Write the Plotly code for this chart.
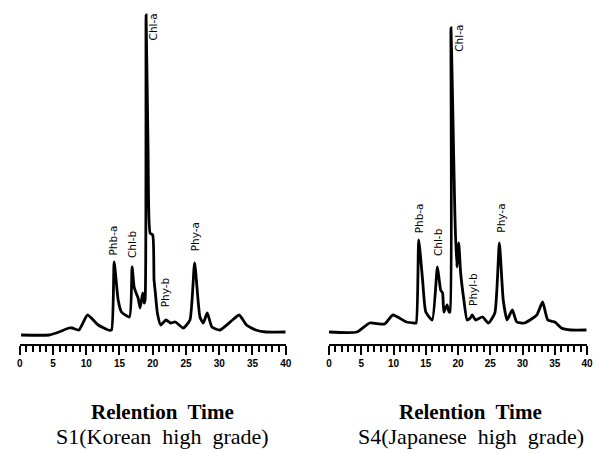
import plotly.graph_objects as go

# ---- data: retention time (min) and detector response (arbitrary units) ----
s1_time = [0.2, 4.4, 5.9, 7.4, 7.9, 8.9, 10.2, 11.8, 13.3, 13.8, 14.2, 14.8, 15.3, 16.5,
           16.9, 17.2, 17.5, 17.8, 18.1, 18.5, 18.7, 18.85, 19.0, 19.3, 19.6, 20.0, 20.2,
           20.4, 20.7, 21.2, 22.0, 22.7, 23.4, 24.6, 25.6, 26.3, 27.1, 27.6, 28.2, 28.9,
           30.1, 32.0, 33.0, 34.1, 35.5, 37.0, 40.0]
s1_resp = [9, 9, 12, 16, 16, 14, 29, 19, 14, 14, 82, 44, 32, 27,
           77, 57, 51, 46, 36, 51, 41, 44, 329, 194, 111, 109, 64,
           51, 31, 19, 24, 21, 22, 16, 24, 81, 27, 21, 31, 17,
           14, 24, 29, 19, 14, 12, 12]

s4_time = [0.0, 4.3, 6.3, 8.6, 9.9, 12.0, 13.2, 13.5, 13.9, 14.5, 15.0, 16.0, 16.8, 17.3,
           17.6, 17.8, 18.3, 18.6, 18.75, 18.9, 19.1, 19.5, 19.8, 20.1, 20.4, 20.9, 21.4,
           21.9, 22.2, 22.7, 23.8, 24.7, 25.7, 26.4, 27.0, 27.6, 28.4, 29.1, 30.3, 32.2,
           33.1, 33.9, 35.0, 36.0, 37.5, 39.9]
s4_resp = [12, 12, 21, 20, 29, 22, 21, 21, 104, 64, 32, 24, 77, 54,
           51, 32, 39, 32, 32, 316, 261, 131, 77, 101, 71, 44, 24,
           26, 29, 24, 27, 21, 31, 101, 44, 24, 34, 22, 21, 29,
           42, 24, 22, 16, 14, 14]

s1_peaks = ["Phb-a", "Chl-b", "Chl-a", "Phy-b", "Phy-a"]
s1_peak_t = [14.1, 16.9, 20.1, 21.9, 26.4]
s1_peak_y = [104, 100, 317, 52, 107]

s4_peaks = ["Phb-a", "Chl-b", "Chl-a", "Phyl-b", "Phy-a"]
s4_peak_t = [14.0, 16.9, 20.1, 22.3, 26.6]
s4_peak_y = [126, 102, 306, 55, 126]

tick_vals = [0, 5, 10, 15, 20, 25, 30, 35, 40]
tick_text = ["0", "5", "10", "15", "20", "25", "30", "35", "40"]

x_title = "Relention  Time"
s1_title = "S1(Korean  high  grade)"
s4_title = "S4(Japanese  high  grade)"

W, H = 600, 454
fig = go.Figure()
line_style = dict(color="black", width=2.8, shape="spline", smoothing=0.5)
fig.add_trace(go.Scatter(x=s1_time, y=s1_resp, mode="lines",
                         line=line_style, xaxis="x", yaxis="y"))
fig.add_trace(go.Scatter(x=s4_time, y=s4_resp, mode="lines",
                         line=line_style, xaxis="x2", yaxis="y2"))

axis_common = dict(
    range=[0, 40], showgrid=False, zeroline=False, showline=True, linecolor="black",
    linewidth=2, ticks="outside", ticklen=9, tickwidth=2, tickcolor="black",
    tickvals=tick_vals, ticktext=tick_text,
    tickfont=dict(family="Liberation Sans Narrow, Liberation Sans, Arial", size=10,
                  color="black", weight="bold"),
    minor=dict(ticks="outside", dtick=1, ticklen=6, tickwidth=1.5, tickcolor="black"),
    fixedrange=True,
)
ydom = [(H - 344) / H, 1.0]
yaxis_common = dict(range=[0, 344], visible=False, domain=ydom, fixedrange=True)

fig.update_layout(
    width=W, height=H, margin=dict(l=0, r=0, t=0, b=0),
    paper_bgcolor="white", plot_bgcolor="white", showlegend=False,
    xaxis=dict(domain=[17 / W, 287 / W], anchor="y", **axis_common),
    xaxis2=dict(domain=[331 / W, 593 / W], anchor="y2", **axis_common),
    yaxis=dict(anchor="x", **yaxis_common),
    yaxis2=dict(anchor="x2", **yaxis_common),
)

lab_font = dict(family="DejaVu Sans, Liberation Sans, Arial", size=10.5, color="black")
for name, t, y in zip(s1_peaks, s1_peak_t, s1_peak_y):
    fig.add_annotation(x=t, y=y, xref="x", yref="y", text=name, textangle=-90,
                       showarrow=False, font=lab_font)
for name, t, y in zip(s4_peaks, s4_peak_t, s4_peak_y):
    fig.add_annotation(x=t, y=y, xref="x2", yref="y2", text=name, textangle=-90,
                       showarrow=False, font=lab_font)

serif = "Liberation Serif, Times New Roman, serif"
for cx, sub in [(162, s1_title), (475, s4_title)]:
    fig.add_annotation(x=cx / W, y=1 - 412 / H, xref="paper", yref="paper",
                       text="<b>" + x_title + "</b>", showarrow=False,
                       font=dict(family=serif, size=21, color="black"),
                       xanchor="center", yanchor="middle")
    fig.add_annotation(x=cx / W, y=1 - 436 / H, xref="paper", yref="paper",
                       text=sub, showarrow=False,
                       font=dict(family=serif, size=22, color="black"),
                       xanchor="center", yanchor="middle")

fig.write_html("out.html")
